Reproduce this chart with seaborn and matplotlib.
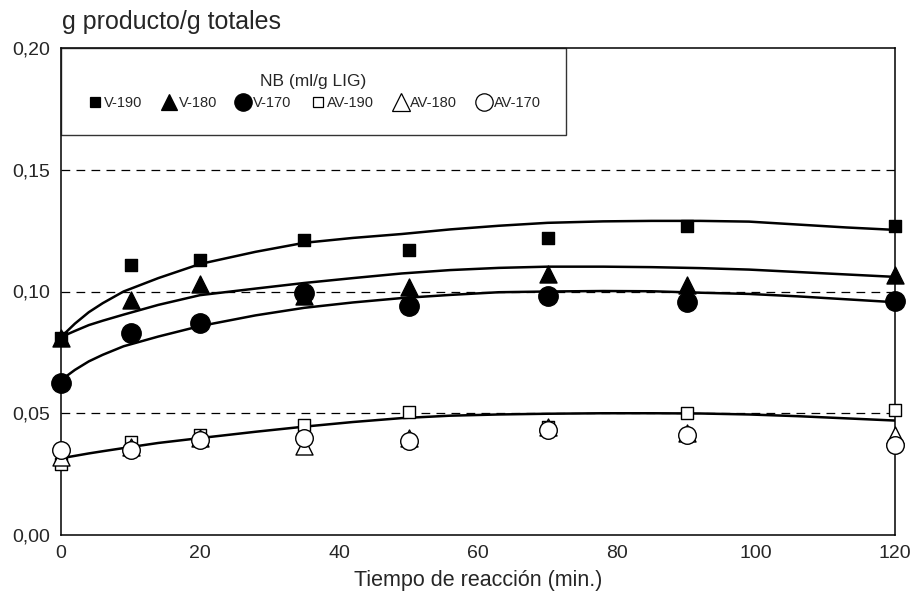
import numpy as np
import pandas as pd
import matplotlib
matplotlib.use("Agg")
import matplotlib.pyplot as plt
import seaborn as sns
from matplotlib.lines import Line2D
from matplotlib.ticker import FuncFormatter

tiempo = [0, 10, 20, 35, 50, 70, 90, 120]
v190 = [0.081, 0.111, 0.113, 0.121, 0.117, 0.122, 0.127, 0.127]
v180 = [0.081, 0.0965, 0.103, 0.098, 0.102, 0.1072, 0.1025, 0.1068]
v170 = [0.0625, 0.083, 0.087, 0.0995, 0.094, 0.098, 0.0957, 0.0962]
av190 = [0.029, 0.038, 0.041, 0.045, 0.0505, 0.0445, 0.050, 0.0513]
av180 = [0.032, 0.036, 0.040, 0.0365, 0.040, 0.0445, 0.042, 0.041]
av170 = [0.035, 0.035, 0.039, 0.040, 0.0386, 0.043, 0.041, 0.037]
series_names = ["V-190", "V-180", "V-170", "AV-190", "AV-180", "AV-170"]

# ---- fitted trend curves ----
curva_t = [0, 2, 4, 6, 9, 14, 20, 28, 35, 42, 49, 56, 63, 70, 78, 85, 92, 99, 106, 113, 120]
ajuste_v190 = [0.0813, 0.0868, 0.0915, 0.0952, 0.1000, 0.1055, 0.1113, 0.1163, 0.1200, 0.1220,
               0.1236, 0.1255, 0.1270, 0.1282, 0.1288, 0.1290, 0.1290, 0.1287, 0.1275, 0.1263, 0.1253]
ajuste_v180 = [0.0813, 0.0838, 0.0862, 0.0880, 0.0905, 0.0945, 0.0985, 0.1012, 0.1035, 0.1055,
               0.1074, 0.1088, 0.1097, 0.1102, 0.1102, 0.1100, 0.1096, 0.1090, 0.1080, 0.1070, 0.1060]
ajuste_v170 = [0.0636, 0.0678, 0.0713, 0.0740, 0.0775, 0.0815, 0.0858, 0.0902, 0.0933, 0.0955,
               0.0973, 0.0986, 0.0997, 0.1000, 0.1002, 0.1001, 0.0995, 0.0990, 0.0980, 0.0968, 0.0956]
ajuste_av = [0.0315, 0.0325, 0.0335, 0.0344, 0.0357, 0.0378, 0.0398, 0.0424, 0.0445, 0.0464,
             0.0480, 0.0490, 0.0495, 0.0498, 0.0500, 0.0500, 0.0499, 0.0495, 0.0488, 0.0479, 0.0470]

x_ticks = [0, 20, 40, 60, 80, 100, 120]
y_ticks = [0.00, 0.05, 0.10, 0.15, 0.20]

sns.set_theme(style="white")
plt.rcParams["font.family"] = ["Liberation Sans", "DejaVu Sans"]

fig = plt.figure(figsize=(9.11, 6.14), dpi=100)
ax = fig.add_axes([61 / 911, 1 - 535 / 614, (895 - 61) / 911, (535 - 48) / 614])

# dashed grid lines
for yv in y_ticks[1:-1]:
    ax.axhline(yv, color="black", lw=0.9, ls=(0, (7, 5)), zorder=1)

# trend curves
for curva in [ajuste_v190, ajuste_v180, ajuste_v170, ajuste_av]:
    sns.lineplot(x=curva_t, y=curva, ax=ax, color="black", lw=1.8, zorder=2)

styles = {
    "V-190": dict(marker="s", s=70, fc="black"),
    "V-180": dict(marker="^", s=150, fc="black"),
    "V-170": dict(marker="o", s=195, fc="black"),
    "AV-190": dict(marker="s", s=75, fc="white"),
    "AV-180": dict(marker="^", s=150, fc="white"),
    "AV-170": dict(marker="o", s=160, fc="white"),
}
values = [v190, v180, v170, av190, av180, av170]
for name, vals in zip(series_names, values):
    st = styles[name]
    sns.scatterplot(x=tiempo, y=vals, ax=ax, marker=st["marker"], s=st["s"],
                    facecolor=st["fc"], edgecolor="black", linewidth=1.0,
                    zorder=4, clip_on=False)

ax.set_xlim(0, 120)
ax.set_ylim(0, 0.20)
ax.set_xticks(x_ticks)
ax.set_yticks(y_ticks)
ax.yaxis.set_major_formatter(FuncFormatter(lambda v, p: f"{v:.2f}".replace(".", ",")))
ax.tick_params(axis="x", direction="in", length=6, width=1, labelsize=14, pad=7, color="black")
ax.tick_params(axis="y", length=0, labelsize=14, pad=8)
for sp in ax.spines.values():
    sp.set_color("black")
    sp.set_linewidth(1.1)
ax.set_xlabel("Tiempo de reacción (min.)", fontsize=15.5, labelpad=6)
ax.set_ylabel("")
fig.text(62 / 911, 1 - 22 / 614, "g producto/g totales", fontsize=18, va="center", ha="left")

handles = []
hsize = {"V-190": 7.5, "V-180": 11, "V-170": 12.5, "AV-190": 7, "AV-180": 12.5, "AV-170": 12.5}
for name in series_names:
    st = styles[name]
    handles.append(Line2D([], [], ls="none", marker=st["marker"], markersize=hsize[name],
                          markerfacecolor=st["fc"], markeredgecolor="black",
                          markeredgewidth=0.9))
leg = ax.legend(handles, series_names, title="NB (ml/g LIG)", ncol=6,
                loc="upper left", bbox_to_anchor=(0, 0, 505 / 834, 1), mode="expand",
                fontsize=10.5, title_fontsize=12.5, frameon=True, fancybox=False,
                handletextpad=0.1, columnspacing=0.75, handlelength=1.1,
                borderpad=1.75, borderaxespad=0)
leg.get_frame().set_edgecolor("black")
leg.get_frame().set_linewidth(1.0)

fig.savefig("out.png", dpi=100)
